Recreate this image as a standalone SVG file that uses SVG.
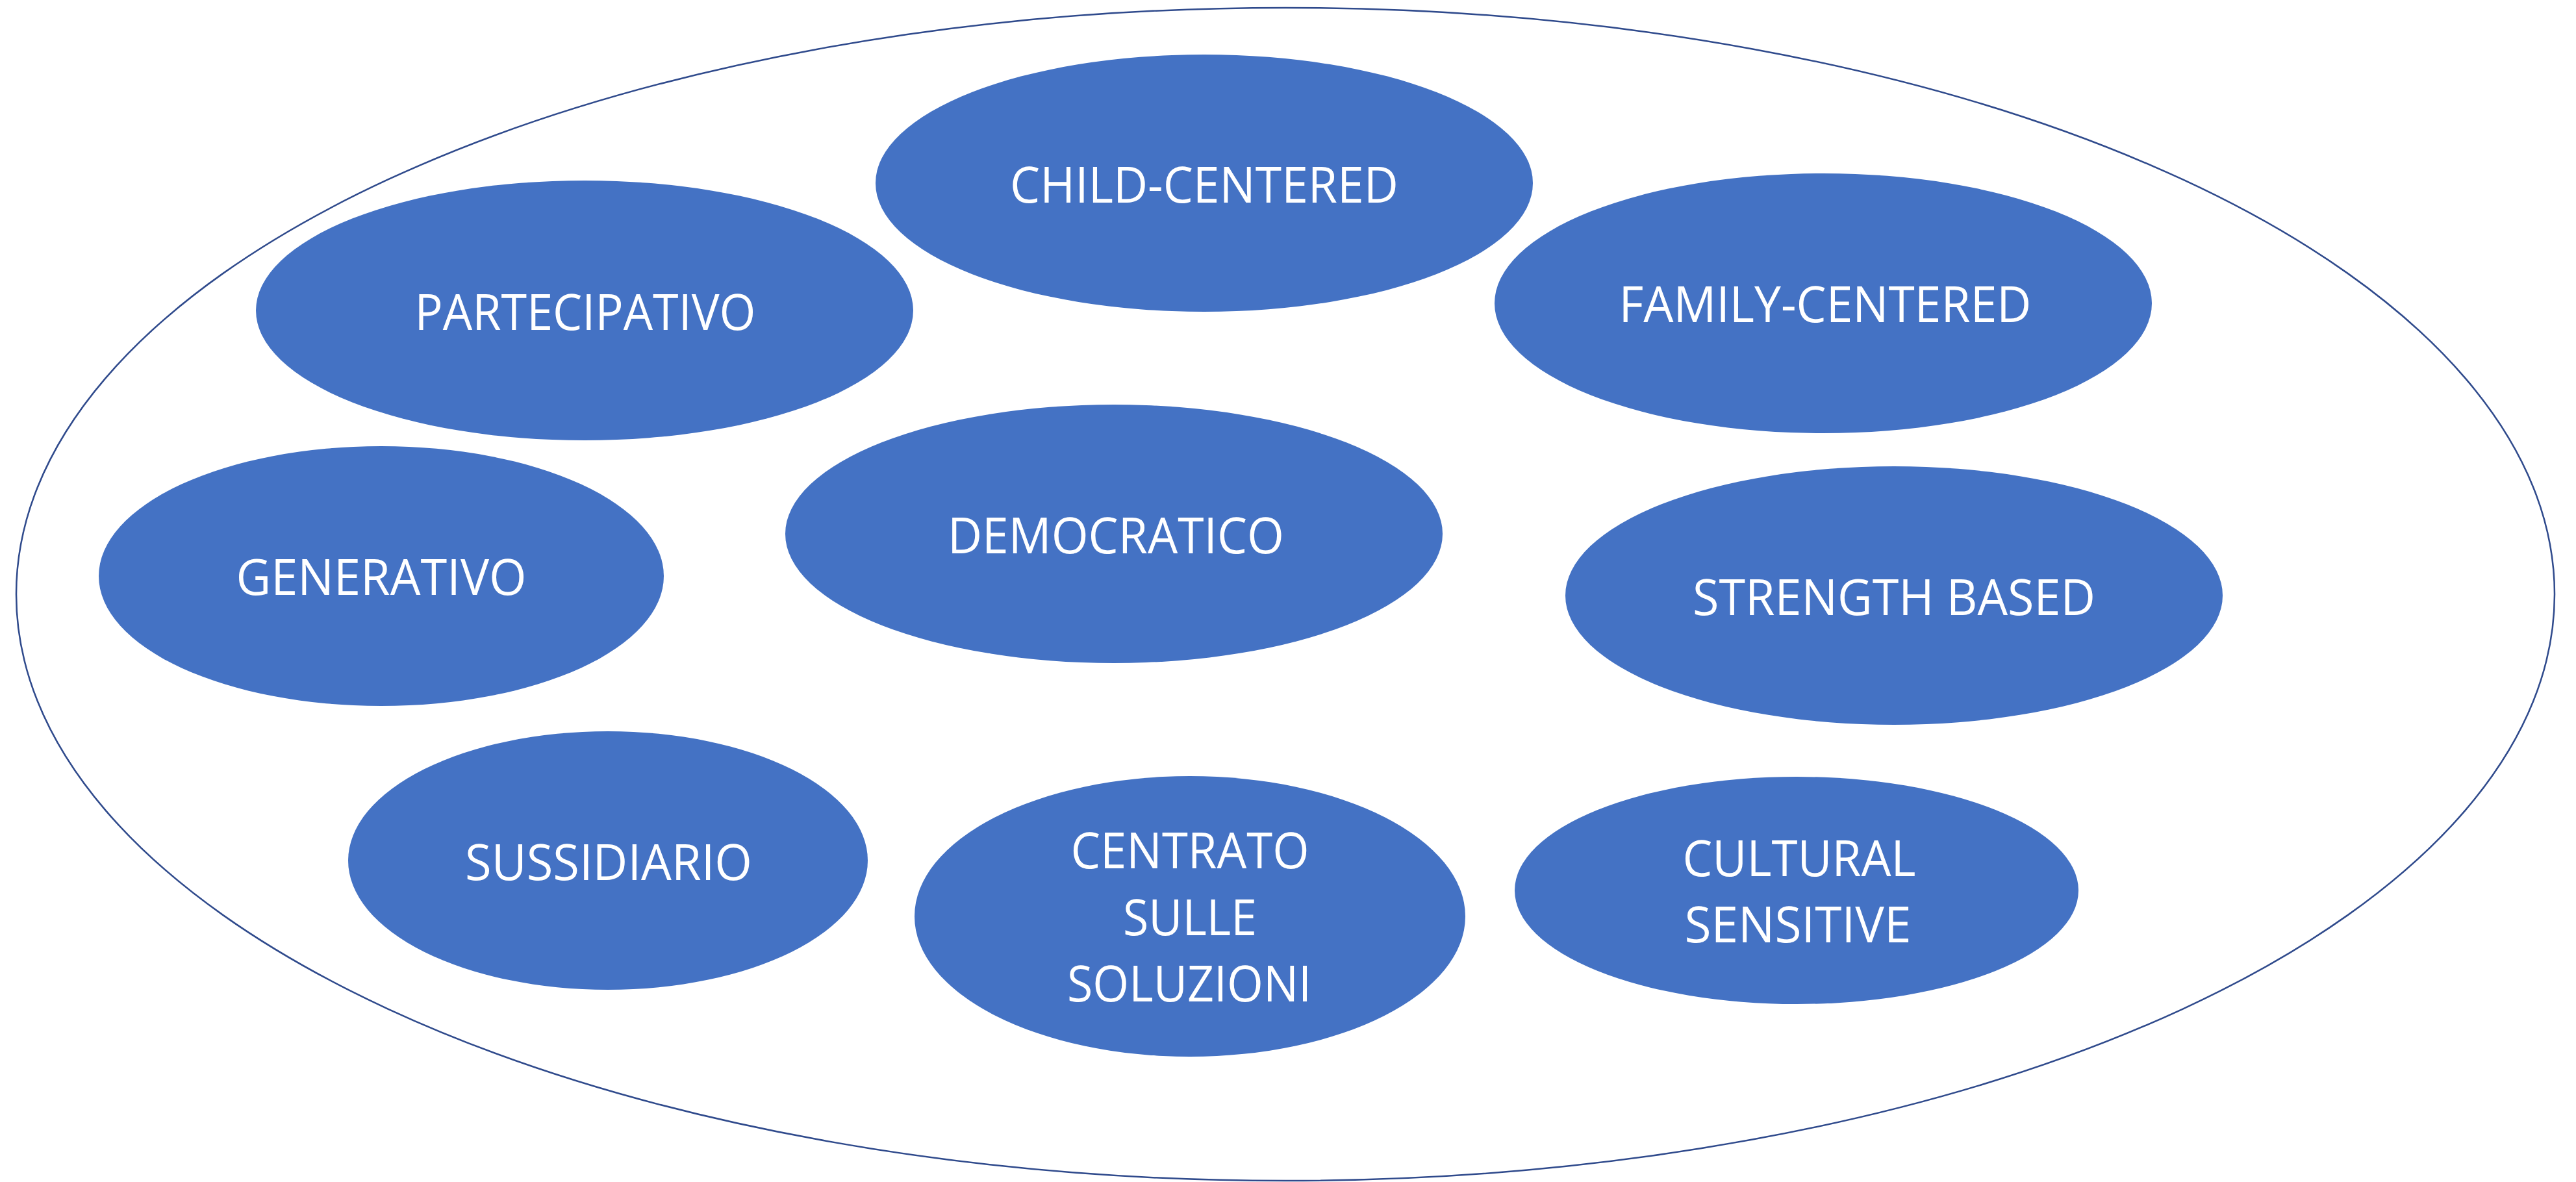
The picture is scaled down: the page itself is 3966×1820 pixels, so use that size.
<svg xmlns="http://www.w3.org/2000/svg" width="3966" height="1820" viewBox="0 0 3966 1820">
<style>
.bg{fill:#ffffff}
.outer{fill:none;stroke:#2F4A8C;stroke-width:2.5}
.node ellipse{fill:#4472C4;stroke:none}
.node text{fill:#ffffff;font-family:"Open Sans","Noto Sans","Liberation Sans",sans-serif;font-size:76px;text-anchor:middle}
</style>
<rect class="bg" x="0" y="0" width="3966" height="1820"/>
<g id="container"><ellipse class="outer" cx="1979" cy="915" rx="1954" ry="903"/></g>
<g id="connectors"></g>
<g id="child-centered" class="node"><ellipse cx="1854" cy="282" rx="506" ry="198"/><text x="1854" y="312" textLength="598" lengthAdjust="spacingAndGlyphs">CHILD-CENTERED</text></g>
<g id="partecipativo" class="node"><ellipse cx="900" cy="478" rx="506" ry="200"/><text x="901" y="508" textLength="525" lengthAdjust="spacingAndGlyphs">PARTECIPATIVO</text></g>
<g id="family-centered" class="node"><ellipse cx="2807" cy="467" rx="506" ry="200"/><text x="2810" y="496" textLength="635" lengthAdjust="spacingAndGlyphs">FAMILY-CENTERED</text></g>
<g id="generativo" class="node"><ellipse cx="587" cy="887" rx="435" ry="200"/><text x="587" y="916" textLength="447" lengthAdjust="spacingAndGlyphs">GENERATIVO</text></g>
<g id="democratico" class="node"><ellipse cx="1715" cy="822" rx="506" ry="199"/><text x="1718" y="852" textLength="518" lengthAdjust="spacingAndGlyphs">DEMOCRATICO</text></g>
<g id="strength-based" class="node"><ellipse cx="2916" cy="917" rx="506" ry="199"/><text x="2916" y="947" textLength="620" lengthAdjust="spacingAndGlyphs">STRENGTH BASED</text></g>
<g id="sussidiario" class="node"><ellipse cx="936" cy="1325" rx="400" ry="199"/><text x="937" y="1355" textLength="442" lengthAdjust="spacingAndGlyphs">SUSSIDIARIO</text></g>
<g id="centrato-sulle-soluzioni" class="node"><ellipse cx="1832" cy="1411" rx="424" ry="216"/><text x="1832" y="1337" textLength="367" lengthAdjust="spacingAndGlyphs">CENTRATO</text><text x="1832" y="1440" textLength="206" lengthAdjust="spacingAndGlyphs">SULLE</text><text x="1831" y="1542" textLength="376" lengthAdjust="spacingAndGlyphs">SOLUZIONI</text></g>
<g id="cultural-sensitive" class="node"><ellipse cx="2766" cy="1371" rx="434" ry="175"/><text x="2770" y="1349" textLength="359" lengthAdjust="spacingAndGlyphs">CULTURAL</text><text x="2768" y="1451" textLength="349" lengthAdjust="spacingAndGlyphs">SENSITIVE</text></g>
</svg>
